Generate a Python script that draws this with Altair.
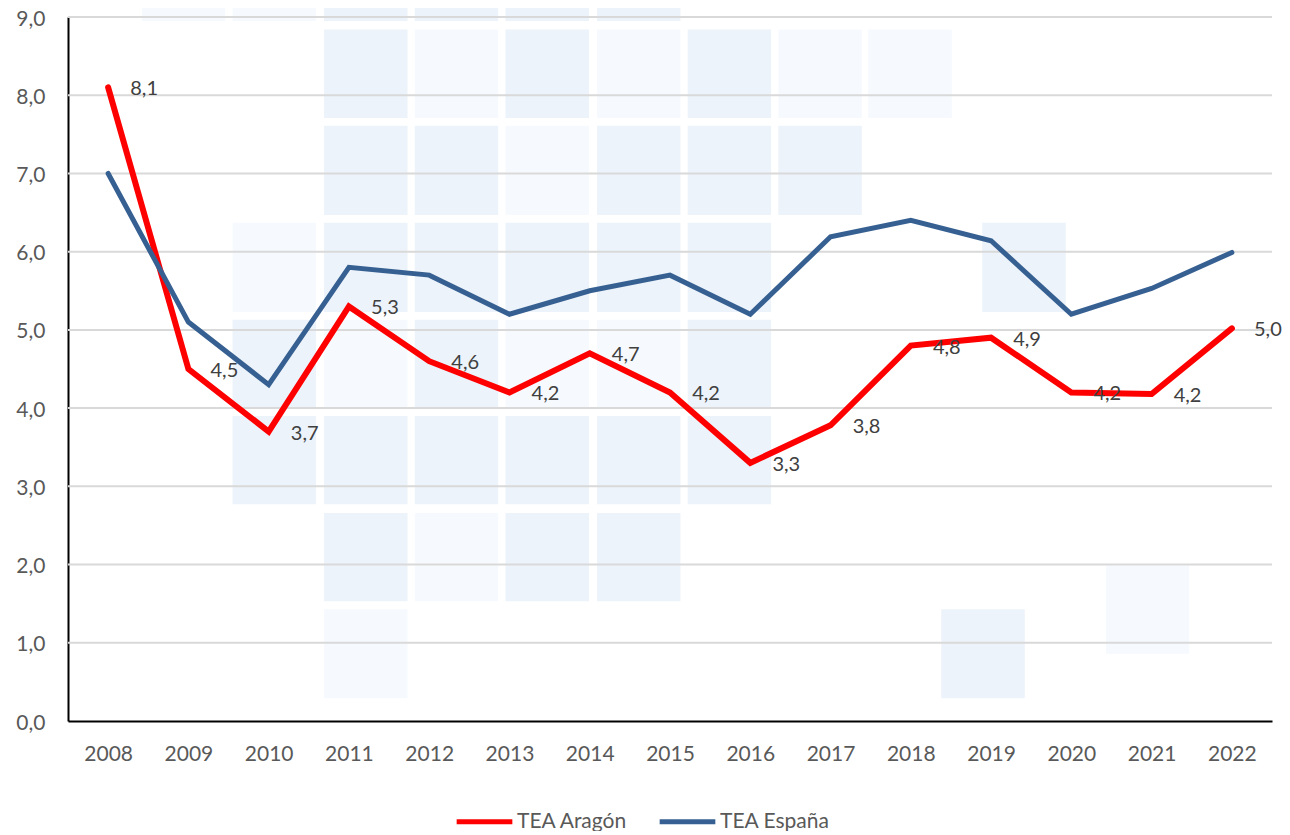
import altair as alt
import pandas as pd

years = list(range(2008, 2023))
aragon = [8.1, 4.5, 3.7, 5.3, 4.6, 4.2, 4.7, 4.2, 3.3, 3.78, 4.8, 4.9, 4.2, 4.18, 5.02]
espana = [7.0, 5.1, 4.3, 5.8, 5.7, 5.2, 5.5, 5.7, 5.2, 6.19, 6.4, 6.14, 5.2, 5.53, 5.99]
labels = ["8,1", "4,5", "3,7", "5,3", "4,6", "4,2", "4,7", "4,2", "3,3", "3,8", "4,8", "4,9", "4,2", "4,2", "5,0"]
series = ["TEA Aragón", "TEA España"]
grid_values = [1, 2, 3, 4, 5, 6, 7, 8, 9]

# background tiles, in the chart's own units
col_start = [2008.42, 2009.55, 2010.69, 2011.82, 2012.95, 2014.09, 2015.22, 2016.35, 2017.47]
row_top = [9.22, 8.84, 7.61, 6.37, 5.13, 3.90, 2.66, 1.43]
row_bottom = [8.95, 7.71, 6.47, 5.23, 4.00, 2.77, 1.53, 0.29]
tile_row = [0, 0, 0, 0, 0, 0,
            1, 1, 1, 1, 1, 1, 1,
            2, 2, 2, 2, 2, 2,
            3, 3, 3, 3, 3, 3,
            4, 4, 4, 4, 4, 4,
            5, 5, 5, 5, 5, 5,
            6, 6, 6, 6,
            7]
tile_col = [0, 1, 2, 3, 4, 5,
            2, 3, 4, 5, 6, 7, 8,
            2, 3, 4, 5, 6, 7,
            1, 2, 3, 4, 5, 6,
            1, 2, 3, 4, 5, 6,
            1, 2, 3, 4, 5, 6,
            2, 3, 4, 5,
            2]
tile_shade = ["l", "l", "d", "d", "d", "d",
              "d", "l", "d", "l", "d", "l", "l",
              "d", "d", "l", "d", "d", "d",
              "l", "d", "d", "d", "d", "d",
              "d", "l", "d", "l", "l", "d",
              "d", "d", "d", "d", "d", "d",
              "d", "l", "d", "d",
              "l"]
extra_x0 = [2018.89, 2018.38, 2020.43]
extra_y0 = [5.23, 0.29, 0.86]
extra_y1 = [6.37, 1.43, 2.0]
extra_shade = ["d", "d", "l"]
tile_width = 1.04

tiles = pd.DataFrame({
    "x0": [col_start[c] for c in tile_col] + extra_x0,
    "y0": [row_bottom[r] for r in tile_row] + extra_y0,
    "y1": [row_top[r] for r in tile_row] + extra_y1,
    "shade": tile_shade + extra_shade,
})
tiles["x1"] = tiles["x0"] + tile_width

lines = pd.DataFrame({
    "year": years * 2,
    "value": aragon + espana,
    "series": [series[0]] * len(years) + [series[1]] * len(years),
})
label_df = pd.DataFrame({"year": years, "value": aragon, "label": labels})
grid_df = pd.DataFrame({"v": grid_values})

FONT = "Lato"
x_scale = alt.Scale(domain=[2007.5, 2022.5], nice=False, zero=False)
y_scale = alt.Scale(domain=[0, 9], nice=False)

tile_layer = alt.Chart(tiles).mark_rect(clip=False).encode(
    x=alt.X("x0:Q", scale=x_scale,
            axis=alt.Axis(values=years, format="d", title=None, grid=False, ticks=False,
                          labelPadding=22, labelFontSize=21, labelFont=FONT, labelColor="#595959",
                          domainColor="#000000", domainWidth=2, labelFlush=False, labelOverlap=False)),
    x2="x1:Q",
    y=alt.Y("y0:Q", scale=y_scale,
            axis=alt.Axis(values=[0] + grid_values, title=None, grid=False, ticks=False,
                          labelExpr="replace(format(datum.value,'.1f'),'.',',')",
                          labelPadding=23, labelFontSize=21, labelFont=FONT, labelColor="#595959",
                          labelOffset=2, labelFlush=False, labelOverlap=False,
                          domainColor="#000000", domainWidth=2)),
    y2="y1:Q",
    color=alt.Color("shade:N", scale=alt.Scale(domain=["d", "l"], range=["#ECF3FA", "#F6FAFE"]), legend=None),
)

grid_layer = alt.Chart(grid_df).mark_rule(color="#D9D9D9", strokeWidth=2).encode(y=alt.Y("v:Q", scale=y_scale))

def one_line(name, width):
    return alt.Chart(lines[lines["series"] == name]).mark_line(
        strokeWidth=width, strokeCap="round", strokeJoin="miter"
    ).encode(
        x=alt.X("year:Q", scale=x_scale),
        y=alt.Y("value:Q", scale=y_scale),
        stroke=alt.Stroke("series:N", scale=alt.Scale(domain=series, range=["#FF0000", "#376092"]),
                          legend=alt.Legend(title=None, orient="none", legendX=386, legendY=774,
                                            direction="horizontal", columns=2, symbolType="stroke",
                                            symbolSize=3100, symbolStrokeWidth=5, labelFont=FONT,
                                            labelFontSize=21, labelColor="#595959", labelOffset=2,
                                            columnPadding=21, padding=0)),
    )

text_layer = alt.Chart(label_df).mark_text(
    dx=36, dy=2, font=FONT, fontSize=20, color="#404040", align="center", baseline="middle"
).encode(
    x=alt.X("year:Q", scale=x_scale),
    y=alt.Y("value:Q", scale=y_scale),
    text="label:N",
)

chart = alt.layer(
    tile_layer, grid_layer, one_line(series[0], 6), one_line(series[1], 5), text_layer
).resolve_scale(color="independent", stroke="shared").properties(
    width=1204, height=704,
    autosize=alt.AutoSizeParams(type="none"),
    padding={"left": 60, "top": 9, "right": 10, "bottom": 110},
    background="white",
).configure_view(stroke=None)

chart.save("out.html", embed_options={"renderer": "svg", "actions": False})
